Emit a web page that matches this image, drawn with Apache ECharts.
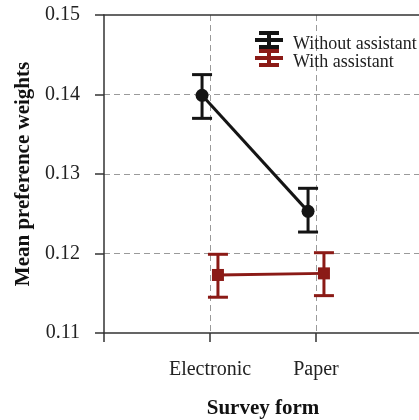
<!DOCTYPE html>
<html>
<head>
<meta charset="utf-8">
<script src="https://cdn.jsdelivr.net/npm/echarts@6/dist/echarts.min.js"></script>
<style>
  html, body { margin: 0; padding: 0; background: #fff; }
  #main { width: 419px; height: 420px; }
</style>
</head>
<body>
<div id="main"></div>
<script>
// categories on x (placed at 1 and 2 on a value axis)
var forms = ['Electronic', 'Paper'];
var groups = ['Without assistant', 'With assistant'];
var yTicks = [0.11, 0.12, 0.13, 0.14, 0.15];

// mean + error bar limits
var withoutMean = [0.1399, 0.1253];
var withoutLow  = [0.1370, 0.1227];
var withoutHigh = [0.1425, 0.1282];
var withMean = [0.1173, 0.1175];
var withLow  = [0.1145, 0.1147];
var withHigh = [0.1199, 0.1201];

var dodge = 0.075; // small horizontal offset between the groups
var colors = ['#141414', '#8b1a16'];
var font = '"Liberation Serif", "DejaVu Serif", serif';

// legend icon: error bar glyph (the lone point at 33,26 only pads the box: text sits lower and further right)
var barIcon = 'path://M4,0H24V4H4Z M12,0H16V18H12Z M0,7H28V11H0Z M4,14H24V18H4Z M33,26L33,26Z';

function points(mean, shift) {
    return mean.map(function (v, i) { return [i + 1 + shift, v]; });
}
function bars(low, high, shift) {
    return low.map(function (v, i) { return [i + 1 + shift, v, high[i]]; });
}

// error bars via custom series, coordinates come from the axes
function errorBar(color) {
    return function (params, api) {
        var lo = api.coord([api.value(0), api.value(1)]);
        var hi = api.coord([api.value(0), api.value(2)]);
        var w = 10;
        var st = { stroke: color, lineWidth: 3 };
        return {
            type: 'group',
            children: [
                { type: 'line', shape: { x1: lo[0], y1: lo[1], x2: hi[0], y2: hi[1] }, style: st },
                { type: 'line', shape: { x1: lo[0] - w, y1: lo[1], x2: lo[0] + w, y2: lo[1] }, style: st },
                { type: 'line', shape: { x1: hi[0] - w, y1: hi[1], x2: hi[0] + w, y2: hi[1] }, style: st }
            ]
        };
    };
}

var myChart = echarts.init(document.getElementById('main'));

var option = {
    animation: false,
    backgroundColor: '#fff',
    textStyle: { fontFamily: font },
    grid: {
        left: 104,
        top: 15,
        bottom: 87,
        right: -3,
        outerBoundsMode: 'none'
    },
    legend: {
        orient: 'vertical',
        left: 255,
        top: 31,
        padding: 0,
        itemWidth: 33,
        itemHeight: 26,
        itemGap: -8,
        data: [
            { name: groups[0], icon: barIcon, itemStyle: { color: colors[0] } },
            { name: groups[1], icon: barIcon, itemStyle: { color: colors[1] } }
        ],
        textStyle: { fontFamily: font, fontSize: 18, color: '#222' }
    },
    xAxis: [{
        type: 'value',
        min: 0,
        max: 3,
        interval: 1,
        name: 'Survey form',
        nameLocation: 'middle',
        nameGap: 65,
        nameTextStyle: { fontFamily: font, fontSize: 21, fontWeight: 'bold', color: '#111' },
        axisLine: { show: true, lineStyle: { color: '#333', width: 1.5 } },
        axisTick: { show: true, length: 9, lineStyle: { color: '#333', width: 1.5 } },
        axisLabel: {
            margin: 27,
            fontFamily: font,
            fontSize: 20,
            color: '#222',
            formatter: function (v) { return forms[v - 1] || ''; }
        },
        splitLine: {
            show: true,
            showMinLine: false,
            showMaxLine: false,
            lineStyle: { color: '#9a9a9a', type: [6, 4], width: 1 }
        }
    }, {
        // top frame line
        type: 'value',
        position: 'top',
        min: 0,
        max: 3,
        axisLine: { show: true, lineStyle: { color: '#333', width: 1.5 } },
        axisTick: { show: false },
        axisLabel: { show: false },
        splitLine: { show: false }
    }],
    yAxis: {
        type: 'value',
        min: yTicks[0],
        max: yTicks[yTicks.length - 1],
        interval: 0.01,
        name: 'Mean preference weights',
        nameLocation: 'middle',
        nameGap: 70,
        nameTextStyle: { fontFamily: font, fontSize: 21, fontWeight: 'bold', color: '#111' },
        axisLine: { show: true, lineStyle: { color: '#333', width: 1.5 } },
        axisTick: { show: true, length: 9, lineStyle: { color: '#333', width: 1.5 } },
        axisLabel: {
            margin: 24,
            fontFamily: font,
            fontSize: 20,
            color: '#222',
            formatter: function (v) { return v.toFixed(2); }
        },
        splitLine: {
            show: true,
            showMinLine: false,
            showMaxLine: false,
            lineStyle: { color: '#9a9a9a', type: [6, 4], width: 1 }
        }
    },
    series: [{
        name: groups[0],
        type: 'custom',
        renderItem: errorBar(colors[0]),
        encode: { x: 0, y: [1, 2] },
        data: bars(withoutLow, withoutHigh, -dodge),
        z: 3
    }, {
        name: groups[1],
        type: 'custom',
        renderItem: errorBar(colors[1]),
        encode: { x: 0, y: [1, 2] },
        data: bars(withLow, withHigh, dodge),
        z: 3
    }, {
        name: groups[0],
        type: 'line',
        data: points(withoutMean, -dodge),
        symbol: 'circle',
        symbolSize: 13,
        lineStyle: { color: colors[0], width: 3 },
        itemStyle: { color: colors[0] },
        z: 4
    }, {
        name: groups[1],
        type: 'line',
        data: points(withMean, dodge),
        symbol: 'rect',
        symbolSize: 12,
        lineStyle: { color: colors[1], width: 3 },
        itemStyle: { color: colors[1] },
        z: 4
    }]
};

myChart.setOption(option);
window.onresize = myChart.resize;
</script>
</body>
</html>
